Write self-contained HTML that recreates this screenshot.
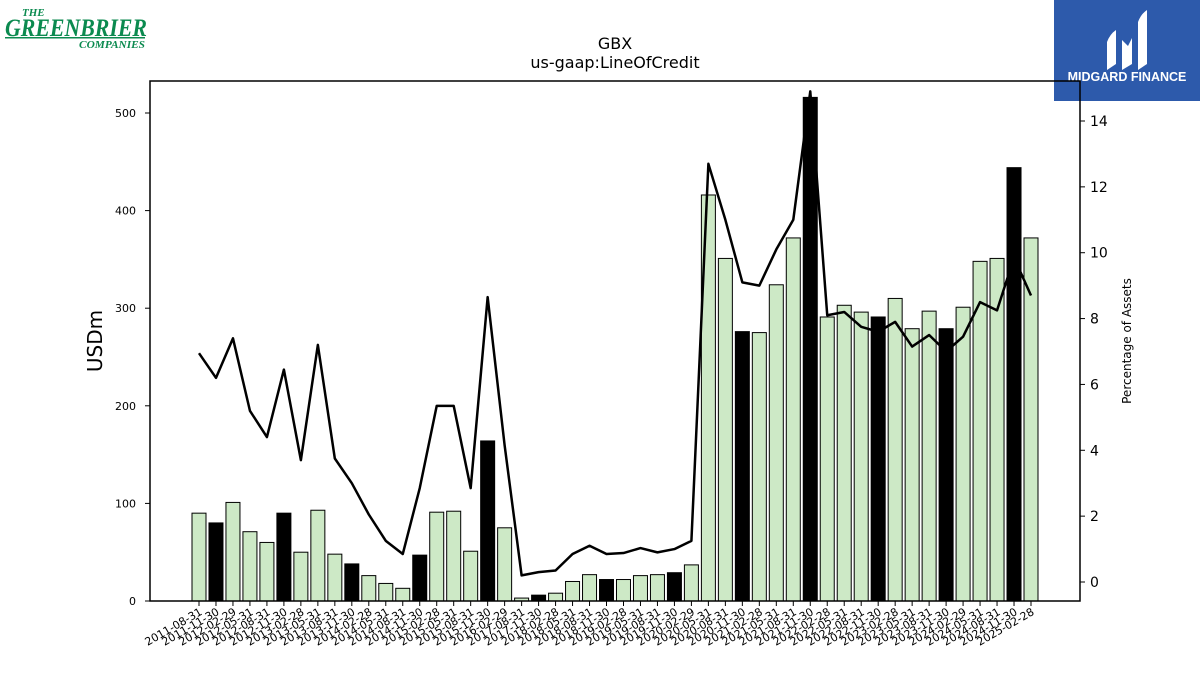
<!DOCTYPE html>
<html><head><meta charset="utf-8"><style>
body{margin:0;background:#fff;width:1200px;height:675px;overflow:hidden;font-family:"Liberation Sans","DejaVu Sans",sans-serif}
</style></head><body>
<svg id="chart" width="1200" height="675" xmlns="http://www.w3.org/2000/svg" font-family="DejaVu Sans, Liberation Sans, sans-serif">
<g fill="#0b8a4f" font-family="Liberation Serif, serif" font-style="italic" font-weight="bold">
<text x="22" y="16" font-size="11">THE</text>
<text x="5" y="36" font-size="25" textLength="142" lengthAdjust="spacingAndGlyphs">GREENBRIER</text>
<rect x="5" y="37" width="140" height="1.5" fill="#0b8a4f"/>
<text x="79" y="48" font-size="11" textLength="66" lengthAdjust="spacingAndGlyphs">COMPANIES</text>
</g>
<g>
<rect x="1054" y="0" width="146" height="101" fill="#2d5aab"/>
<path d="M1107 70 L1107 42 Q1110 34 1116 30 L1116 64 Z" fill="#fff"/>
<path d="M1122 70 L1122 40 L1128 46 L1132 38 L1132 64 Z" fill="#fff"/>
<path d="M1138 70 L1138 22 Q1141 14 1147 10 L1147 64 Z" fill="#fff"/>
<text x="1127" y="81" font-size="12.5" font-weight="bold" fill="#fff" text-anchor="middle" font-family="Liberation Sans, sans-serif">MIDGARD FINANCE</text>
</g>
<text x="615" y="49" font-size="16" text-anchor="middle">GBX</text>
<text x="615" y="68" font-size="16" text-anchor="middle">us-gaap:LineOfCredit</text>
<g id="bars"></g><g id="line"></g><g id="axes"></g>
<rect x="150" y="81" width="930" height="520" fill="none" stroke="#000" stroke-width="1.5"/>
<text transform="translate(102,341) rotate(-90)" font-size="20" text-anchor="middle">USDm</text>
<text transform="translate(1131,341) rotate(-90)" font-size="12" text-anchor="middle">Percentage of Assets</text>
</svg>
<script>
const categories=["2011-08-31","2011-11-30","2012-02-29","2012-05-31","2012-08-31","2012-11-30","2013-02-28","2013-05-31","2013-08-31","2013-11-30","2014-02-28","2014-05-31","2014-08-31","2014-11-30","2015-02-28","2015-05-31","2015-08-31","2015-11-30","2016-02-29","2017-08-31","2017-11-30","2018-02-28","2018-05-31","2018-08-31","2018-11-30","2019-02-28","2019-05-31","2019-08-31","2019-11-30","2020-02-29","2020-05-31","2020-08-31","2020-11-30","2021-02-28","2021-05-31","2021-08-31","2021-11-30","2022-02-28","2022-05-31","2022-08-31","2022-11-30","2023-02-28","2023-05-31","2023-08-31","2023-11-30","2024-02-29","2024-05-31","2024-08-31","2024-11-30","2025-02-28"];
const lineOfCredit=[90,80,101,71,60,90,50,93,48,38,26,18,13,47,91,92,51,164,75,3,6,8,20,27,22,22,26,27,29,37,416,351,276,275,324,372,516,291,303,296,291,310,279,297,279,301,348,351,444,372];
const pctAssets=[6.95,6.2,7.4,5.2,4.4,6.45,3.7,7.2,3.75,3.0,2.05,1.25,0.85,2.85,5.35,5.35,2.85,8.65,4.15,0.2,0.3,0.35,0.85,1.1,0.85,0.88,1.03,0.9,1.0,1.25,12.7,11.0,9.1,9.0,10.1,11.0,14.9,8.1,8.2,7.75,7.6,7.9,7.15,7.5,7.0,7.45,8.5,8.25,9.85,8.7];
const leftTicks=[0,100,200,300,400,500];
const rightTicks=[0,2,4,6,8,10,12,14];
const NS="http://www.w3.org/2000/svg";
const X0=199,X1=1031;
const xs=i=>X0+(X1-X0)*i/(categories.length-1);
const yL=v=>601-v*(601-113)/500;
const yR=v=>582-v*(582-121)/14;
function mk(p,t,a){const e=document.createElementNS(NS,t);for(const k in a)e.setAttribute(k,a[k]);p.appendChild(e);return e;}
const bars=document.getElementById('bars'),line=document.getElementById('line'),axes=document.getElementById('axes');
categories.forEach((c,i)=>{
  const black=c.endsWith('-11-30');
  const r=mk(bars,'rect',{x:xs(i)-7,y:yL(lineOfCredit[i]),width:14,height:601-yL(lineOfCredit[i]),fill:black?'#000':'#cde9c6',stroke:'#000','stroke-width':1});
  
  
  const t=mk(axes,'line',{x1:xs(i),x2:xs(i),y1:601,y2:606,stroke:'#000','stroke-width':1});
  
  
  const l=mk(axes,'text',{transform:`translate(${xs(i)+4},614) rotate(-30)`,'font-size':11,'text-anchor':'end'});
  l.textContent=c;
  
  
});
const pl=mk(line,'polyline',{points:pctAssets.map((v,i)=>xs(i)+','+yR(v)).join(' '),fill:'none',stroke:'#000','stroke-width':2.5,'stroke-linejoin':'round'});


leftTicks.forEach(v=>{
  const t=mk(axes,'line',{x1:145,x2:150,y1:yL(v),y2:yL(v),stroke:'#000'});
  
  
  const l=mk(axes,'text',{x:136,y:yL(v)+4,'font-size':11,'text-anchor':'end'});
  l.textContent=v;
  
  
});
rightTicks.forEach(v=>{
  const t=mk(axes,'line',{x1:1080,x2:1085,y1:yR(v),y2:yR(v),stroke:'#000'});
  
  
  const l=mk(axes,'text',{x:1090,y:yR(v)+5,'font-size':14});
  l.textContent=v;
  
  
});
</script>
</body></html>
